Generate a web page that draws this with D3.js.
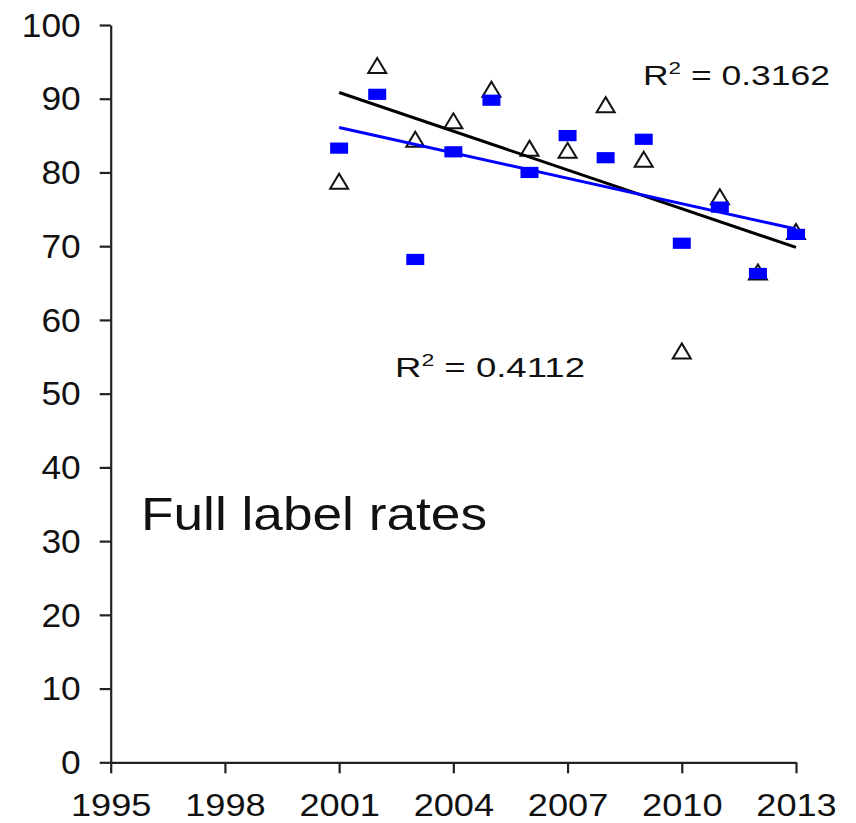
<!DOCTYPE html>
<html>
<head>
<meta charset="utf-8">
<script src="https://cdn.jsdelivr.net/npm/d3@7"></script>
<style>
  html, body { margin: 0; padding: 0; background: #fff; }
  text { font-family: "Liberation Sans", Arial, sans-serif; fill: #111; }
</style>
</head>
<body>
<svg id="chart" width="856" height="823"></svg>
<script>
// ---- data ----
const years = [2001, 2002, 2003, 2004, 2005, 2006, 2007, 2008, 2009, 2010, 2011, 2012, 2013];
const triangleValues = [78.8, 94.5, 84.5, 87.0, 91.3, 83.3, 83.0, 89.2, 81.8, 55.8, 76.7, 66.5, 72.0];
const squareValues   = [83.3, 90.6, 68.2, 82.8, 89.8, 80.0, 85.0, 82.0, 84.5, 70.4, 75.3, 66.3, 71.6];
const xTickValues = [1995, 1998, 2001, 2004, 2007, 2010, 2013];
const yTickValues = [0, 10, 20, 30, 40, 50, 60, 70, 80, 90, 100];
const r2Labels = ["0.3162", "0.4112"];
const chartTitle = "Full label rates";

// ---- layout ----
const svg = d3.select("#chart");
const x = d3.scaleLinear().domain([1995, 2013]).range([110.7, 796]);
const y = d3.scaleLinear().domain([0, 100]).range([762.3, 25]);

function stretch(sel, factor) {
  sel.each(function () {
    const w = this.getComputedTextLength();
    d3.select(this).attr("textLength", w * factor).attr("lengthAdjust", "spacingAndGlyphs");
  });
}

// y axis
const yAxis = svg.append("g")
  .attr("transform", `translate(${x(1995)},0)`)
  .call(d3.axisLeft(y).tickValues(yTickValues).tickSize(11).tickPadding(19).tickSizeOuter(0));
// x axis
const xAxis = svg.append("g")
  .attr("transform", `translate(0,${y(0)})`)
  .call(d3.axisBottom(x).tickValues(xTickValues).tickFormat(d3.format("d")).tickSize(11).tickPadding(20).tickSizeOuter(0));

[yAxis, xAxis].forEach(g => {
  g.select(".domain").attr("stroke", "#222").attr("stroke-width", 2.2);
  g.selectAll(".tick line").attr("stroke", "#222").attr("stroke-width", 2.2);
  g.selectAll(".tick text").attr("fill", "#111")
    .style("font-family", "'Liberation Sans', Arial, sans-serif");
});
yAxis.selectAll(".tick text").attr("font-size", 33).attr("dy", "0.34em");
xAxis.selectAll(".tick text").attr("font-size", 32).attr("dy", "0.71em");
stretch(yAxis.selectAll(".tick text"), 1.07);
stretch(xAxis.selectAll(".tick text"), 1.13);

// regression lines (least squares from the series)
function fit(xs, ys) {
  const mx = d3.mean(xs), my = d3.mean(ys);
  let sxy = 0, sxx = 0;
  xs.forEach((v, i) => { sxy += (v - mx) * (ys[i] - my); sxx += (v - mx) * (v - mx); });
  const b = sxy / sxx, a = my - b * mx;
  return t => a + b * t;
}
const line = d3.line().x(d => x(d[0])).y(d => y(d[1]));
const ends = [d3.min(years), d3.max(years)];

// triangles (drawn first)
svg.append("g").selectAll("path")
  .data(years.map((yr, i) => [yr, triangleValues[i]]))
  .join("path")
  .attr("transform", d => `translate(${x(d[0])},${y(d[1])})`)
  .attr("d", "M0,-7.5L9,7.5L-9,7.5Z")
  .attr("fill", "none")
  .attr("stroke", "#111")
  .attr("stroke-width", 2);

// squares
svg.append("g").selectAll("rect")
  .data(years.map((yr, i) => [yr, squareValues[i]]))
  .join("rect")
  .attr("x", d => x(d[0]) - 9)
  .attr("y", d => y(d[1]) - 5.6)
  .attr("width", 18)
  .attr("height", 11.2)
  .attr("fill", "#0000ff");

// trend lines
const fT = fit(years, triangleValues);
const fS = fit(years, squareValues);
svg.append("path").datum(ends.map(t => [t, fT(t)])).attr("d", line)
  .attr("stroke", "#000").attr("stroke-width", 3).attr("fill", "none");
svg.append("path").datum(ends.map(t => [t, fS(t)])).attr("d", line)
  .attr("stroke", "#0000ff").attr("stroke-width", 3).attr("fill", "none");

// R² labels
function r2(xPos, yPos, value, width) {
  const t = svg.append("text").attr("x", xPos).attr("y", yPos).attr("font-size", 27);
  t.append("tspan").text("R");
  t.append("tspan").attr("font-size", 17).attr("dy", -11).text("2");
  t.append("tspan").attr("dy", 11).text(" = " + value);
  t.attr("textLength", width).attr("lengthAdjust", "spacingAndGlyphs");
}
r2(643, 85, r2Labels[0], 187);
r2(395, 377, r2Labels[1], 190);

// title
svg.append("text").attr("x", 141).attr("y", 530).attr("font-size", 46)
  .attr("textLength", 346).attr("lengthAdjust", "spacingAndGlyphs")
  .text(chartTitle);
</script>
</body>
</html>
